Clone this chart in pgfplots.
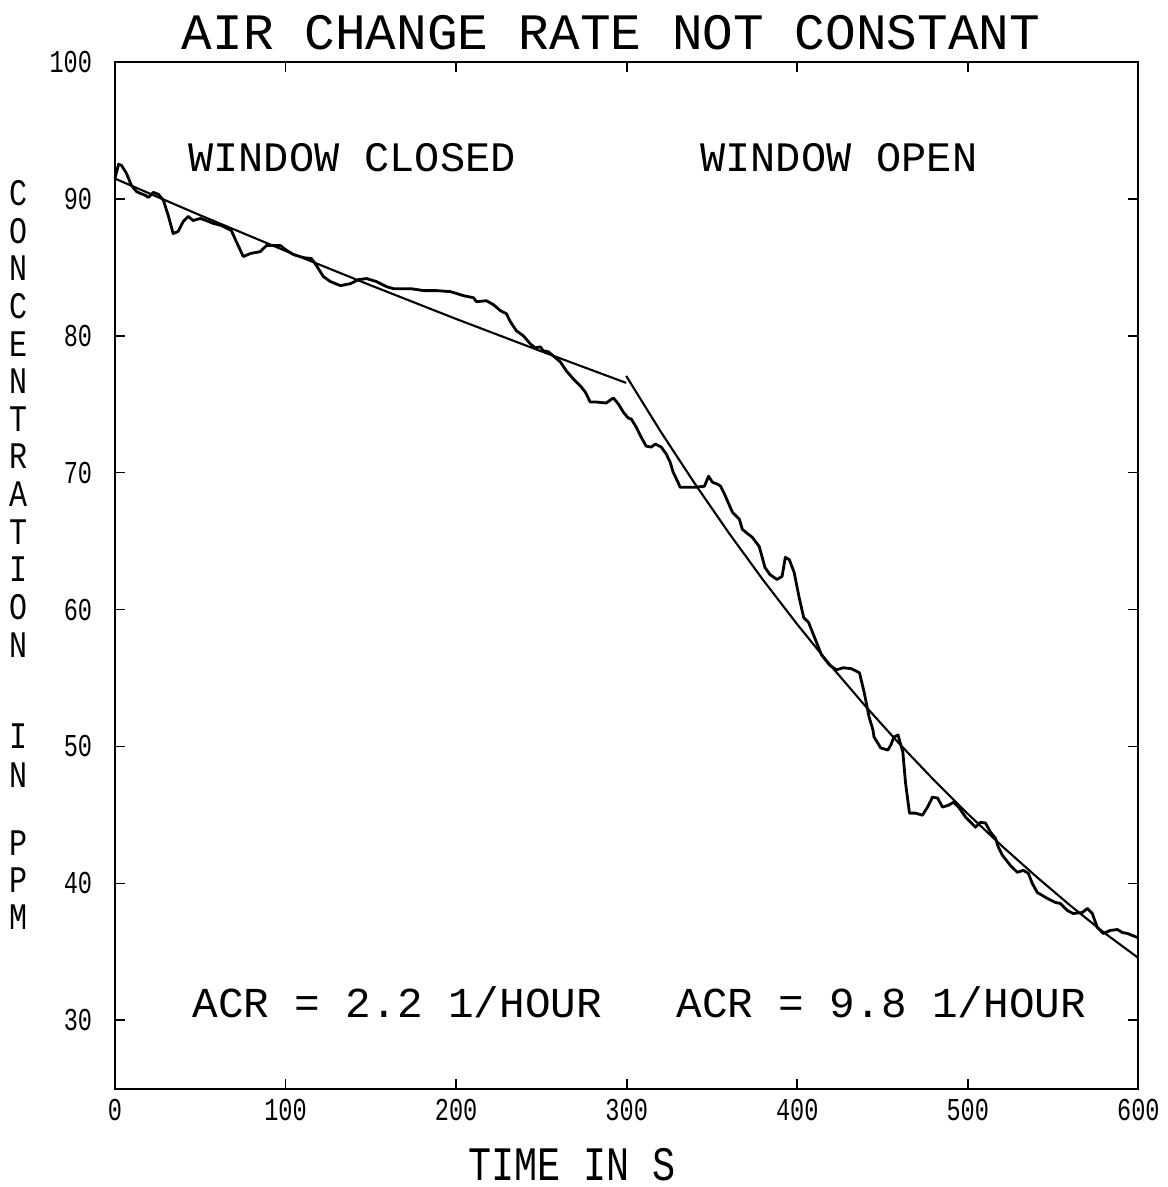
\documentclass[border=0pt]{standalone}
\usepackage{fontspec}
\setmainfont{Liberation Mono}
\newfontfamily\narrowfont{Liberation Mono}[FakeStretch=0.8]
\newfontfamily\ticksfont{Liberation Mono}[FakeStretch=0.74]
\usepackage{pgfplots}
\pgfplotsset{compat=1.18}

\begin{document}
\begin{tikzpicture}
\begin{axis}[
  scale only axis,
  width=153.5mm, height=154mm,
  xmin=0, xmax=600, ymin=25, ymax=100,
  xtick={0,100,...,600},
  ytick={30,40,...,100},
  tick align=inside,
  tick pos=both,
  major tick length=1.5mm,
  axis line style={line width=0.9pt},
  every tick/.style={black, line width=0.7pt},
  /pgf/number format/assume math mode=true,
  ticklabel style={font=\ticksfont\fontsize{13.6}{15}\selectfont},
  yticklabel style={xshift=-2.2mm},
  xticklabel style={yshift=-0.4mm},
  clip=false,
]
% measured concentration
\addplot[black, line width=1.2pt, line join=round] coordinates {
(0,91.5)(2.1,92.53)(3.8,92.45)(6.7,91.87)(9.6,90.99)(12.5,90.55)(14.9,90.40)(17.8,90.26)(19.6,90.11)(22.5,90.48)(25.5,90.33)(28.4,89.89)(31.2,88.79)(34.1,87.47)(37.0,87.62)(40.0,88.35)(42.9,88.72)(45.8,88.42)(50.0,88.57)(53.5,88.42)(57.6,88.21)(62.3,88.06)(68.2,87.69)(71.1,86.89)(75.2,85.79)(79.4,86.01)(85.2,86.15)(88.8,86.59)(92.9,86.59)(97.0,86.59)(99.9,86.30)(104.6,85.93)(110.5,85.71)(115.2,85.64)(118.1,85.13)(122.2,84.32)(126.3,83.96)(132.2,83.66)(138.1,83.81)(142.8,84.10)(147.5,84.18)(153.3,83.96)(159.2,83.59)(163.3,83.44)(173.4,83.44)(181.0,83.30)(188.6,83.30)(196.9,83.22)(204.3,82.93)(210.2,82.78)(211.9,82.49)(217.8,82.56)(221.9,82.27)(226.0,81.83)(229.5,81.61)(231.8,81.03)(235.3,80.37)(239.4,80.00)(243.5,79.41)(246.4,79.12)(249.4,79.19)(251.1,78.90)(254.1,78.83)(257.0,78.53)(261.1,78.09)(264.6,77.44)(268.7,76.85)(272.8,76.34)(275.7,75.90)(278.6,75.16)(282.2,75.16)(288.0,75.09)(292.2,75.46)(295.1,75.02)(298.0,74.43)(300.9,73.99)(302.7,73.92)(305.6,73.33)(308.5,72.60)(311.4,71.94)(314.4,71.87)(316.8,72.09)(320.3,71.87)(323.2,71.36)(325.5,70.77)(327.2,70.04)(330.1,69.30)(331.3,68.94)(340.7,68.94)(345.6,69.01)(348.0,69.74)(350.3,69.30)(353.3,69.16)(355.1,69.01)(357.4,68.42)(362.0,67.11)(366.1,66.59)(367.8,65.86)(373.7,65.27)(377.7,64.61)(381.1,63.07)(384.0,62.56)(388.1,62.20)(391.1,62.42)(393.0,63.81)(395.3,63.66)(398.2,62.71)(401.0,60.95)(403.8,59.41)(406.7,59.05)(410.2,57.95)(414.2,56.70)(418.8,55.97)(422.9,55.60)(427.1,55.75)(431.8,55.68)(436.5,55.38)(439.3,53.92)(442.1,52.16)(444.4,51.21)(445.0,50.69)(449.0,49.89)(453.1,49.74)(454.9,50.11)(456.7,50.69)(459.1,50.84)(460.2,50.33)(461.9,49.60)(463.5,47.33)(465.8,45.13)(469.3,45.13)(473.4,44.98)(476.4,45.57)(479.3,46.30)(482.3,46.23)(485.2,45.57)(488.7,45.71)(491.7,45.93)(494.6,45.57)(498.7,44.84)(504.5,44.10)(507.5,44.47)(510.4,44.40)(513.3,43.74)(516.2,43.30)(517.9,42.64)(520.3,42.05)(524.9,41.32)(529.0,40.81)(532.6,40.95)(535.5,40.73)(537.8,40.00)(540.7,39.34)(546.6,38.90)(551.3,38.61)(554.2,38.53)(558.3,38.02)(561.8,37.80)(567.1,37.87)(570.1,38.17)(573.0,37.80)(575.9,36.78)(579.4,36.34)(583.5,36.56)(587.7,36.63)(590.6,36.41)(593.6,36.34)(596.5,36.19)(599.4,36.05)
};
% fit, window closed
\addplot[black, line width=0.9pt] coordinates {
(0,91.48)(50,88.80)(100,86.20)(150,83.68)(200,81.23)(250,78.86)(299.7,76.56)
};
% fit, window open
\addplot[black, line width=0.9pt, line join=round] coordinates {
(299.7,77.07)(320,72.99)(340,69.19)(360,65.58)(380,62.16)(400,58.92)(420,55.85)(440,52.94)(460,50.18)(480,47.56)(500,45.08)(520,42.73)(540,40.51)(560,38.39)(580,36.39)(600,34.55)
};
\end{axis}

\begin{scope}[shift={(current axis.north west)}, x=0.15mm, y=-0.15mm]
  \node[anchor=base, inner sep=0, font=\fontsize{21.8}{24}\selectfont] at (496,-12) {AIR CHANGE RATE NOT CONSTANT};
  \node[anchor=base west, inner sep=0, font=\fontsize{17.9}{20}\selectfont] at (73,110) {WINDOW CLOSED};
  \node[anchor=base west, inner sep=0, font=\fontsize{17.9}{20}\selectfont] at (585,110) {WINDOW OPEN};
  \node[anchor=base west, inner sep=0, font=\fontsize{18.2}{20}\selectfont] at (77,956) {ACR = 2.2 1/HOUR};
  \node[anchor=base west, inner sep=0, font=\fontsize{18.2}{20}\selectfont] at (561,956) {ACR = 9.8 1/HOUR};
  \node[anchor=base, inner sep=0, font=\narrowfont\fontsize{20.5}{22}\selectfont] at (457,1118) {TIME IN S};
  \foreach \l/\p in {C/131,O/169,N/206,C/244,E/282,N/319,T/357,R/394,A/432,T/470,I/507,O/545,N/583,I/674,N/713,P/781,P/818,M/855}
    \node[anchor=center, inner sep=0, font=\narrowfont\fontsize{16}{18}\selectfont] at (-97,\p) {\l};
  \pgfresetboundingbox
  \path[use as bounding box] (-115,-62) rectangle (1053,1125);
\end{scope}
\end{tikzpicture}
\end{document}
